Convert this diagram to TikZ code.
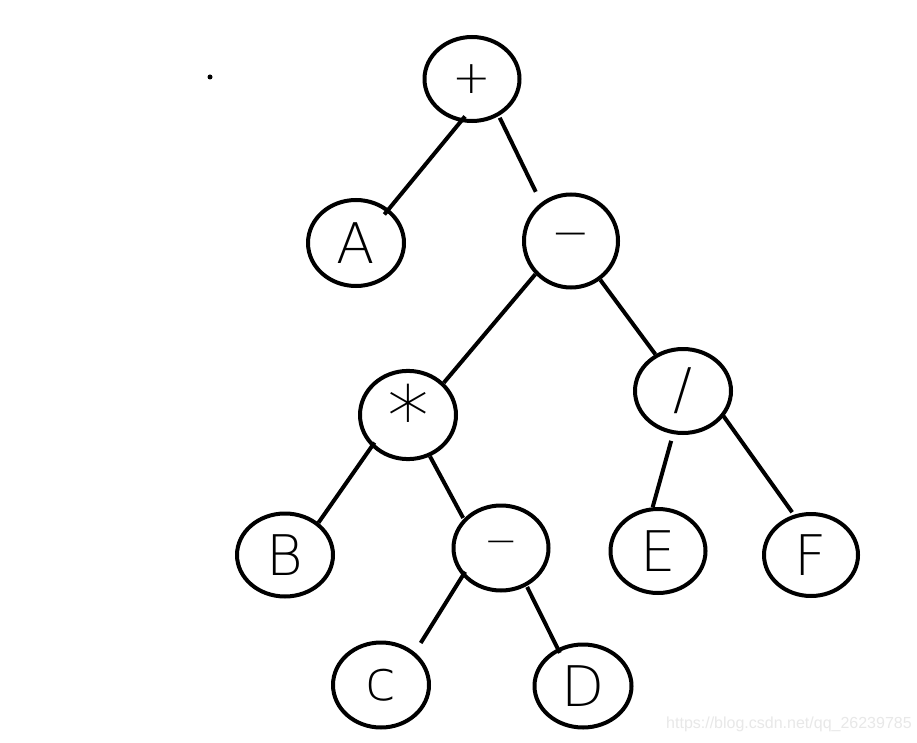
\documentclass[tikz,border=0pt]{standalone}
\usepackage{fontspec}
\usetikzlibrary{shapes.geometric}
\IfFontExistsTF{DejaVu Sans ExtraLight}{\newfontfamily\handfont{DejaVu Sans ExtraLight}}{\newfontfamily\handfont{Liberation Sans}}
\newfontfamily\wmfont{Liberation Sans}
\begin{document}
\begin{tikzpicture}[x=1pt,y=-1pt,
  tn/.style={ellipse, draw=black, line width=4pt, inner sep=0pt, fill=none,
    font=\handfont\fontsize{56}{60}\selectfont},
  symb/.style={font=\handfont\fontsize{46}{50}\selectfont},
  edge/.style={draw=black, line width=4pt}]
\useasboundingbox[fill=white] (0,0) rectangle (917,743);

% nodes
\node[tn, symb, minimum width=95pt, minimum height=84pt] (plus) at (472,79) {+};
\node[tn, minimum width=96pt, minimum height=86pt] (A) at (356,243) {A};
\node[tn, symb, minimum width=94pt, minimum height=93pt] (m1) at (571,241) {−};
\node[tn, font=\handfont\fontsize{84}{88}\selectfont, minimum width=96pt, minimum height=83pt] (star) at (408,415) {*};
\node[tn, minimum width=96pt, minimum height=84pt] (div) at (683,391) {/};
\node[tn, minimum width=96pt, minimum height=83pt] (B) at (285,555) {B};
\node[tn, font=\handfont\fontsize{40}{44}\selectfont, minimum width=95pt, minimum height=85pt] (m2) at (501,548) {−};
\node[tn, minimum width=95pt, minimum height=84pt] (E) at (658,551) {E};
\node[tn, minimum width=94pt, minimum height=82pt] (F) at (811,555) {F};
\node[tn, minimum width=96pt, minimum height=85pt] (c) at (381,685) {c};
\node[tn, minimum width=97pt, minimum height=83pt] (D) at (583,686) {D};

% edges
\draw[edge, shorten <=-7pt, shorten >=-7pt] (plus.255) -- (A.46);
\draw[edge, shorten <=2pt, shorten >=12pt] (plus.306) -- (m1.128);
\draw[edge] (m1.223) -- (star.42);
\draw[edge] (m1.307) -- (div.127);
\draw[edge, shorten <=-5pt] (star.221) -- (B.44);
\draw[edge, shorten >=1pt] (star.298) -- (m2.142);
\draw[edge, shorten <=-5pt, shorten >=11pt] (m2.216) -- (c.44);
\draw[edge, shorten <=1pt, shorten >=-5pt] (m2.304) -- (D.124);
\draw[edge, shorten <=7pt] (div.257) -- (E.97);
\draw[edge, shorten <=-2pt, shorten >=3pt] (div.328) -- (F.113);

% stray dot
\fill[black] (210,77) circle (2.5pt);

% watermark
\node[font=\wmfont\fontsize{16}{18}\selectfont, text=black!9, anchor=west, inner sep=0pt] (wm) at (666,724) {https://blog.csdn.net/qq\_26239785};
\end{tikzpicture}
\end{document}
